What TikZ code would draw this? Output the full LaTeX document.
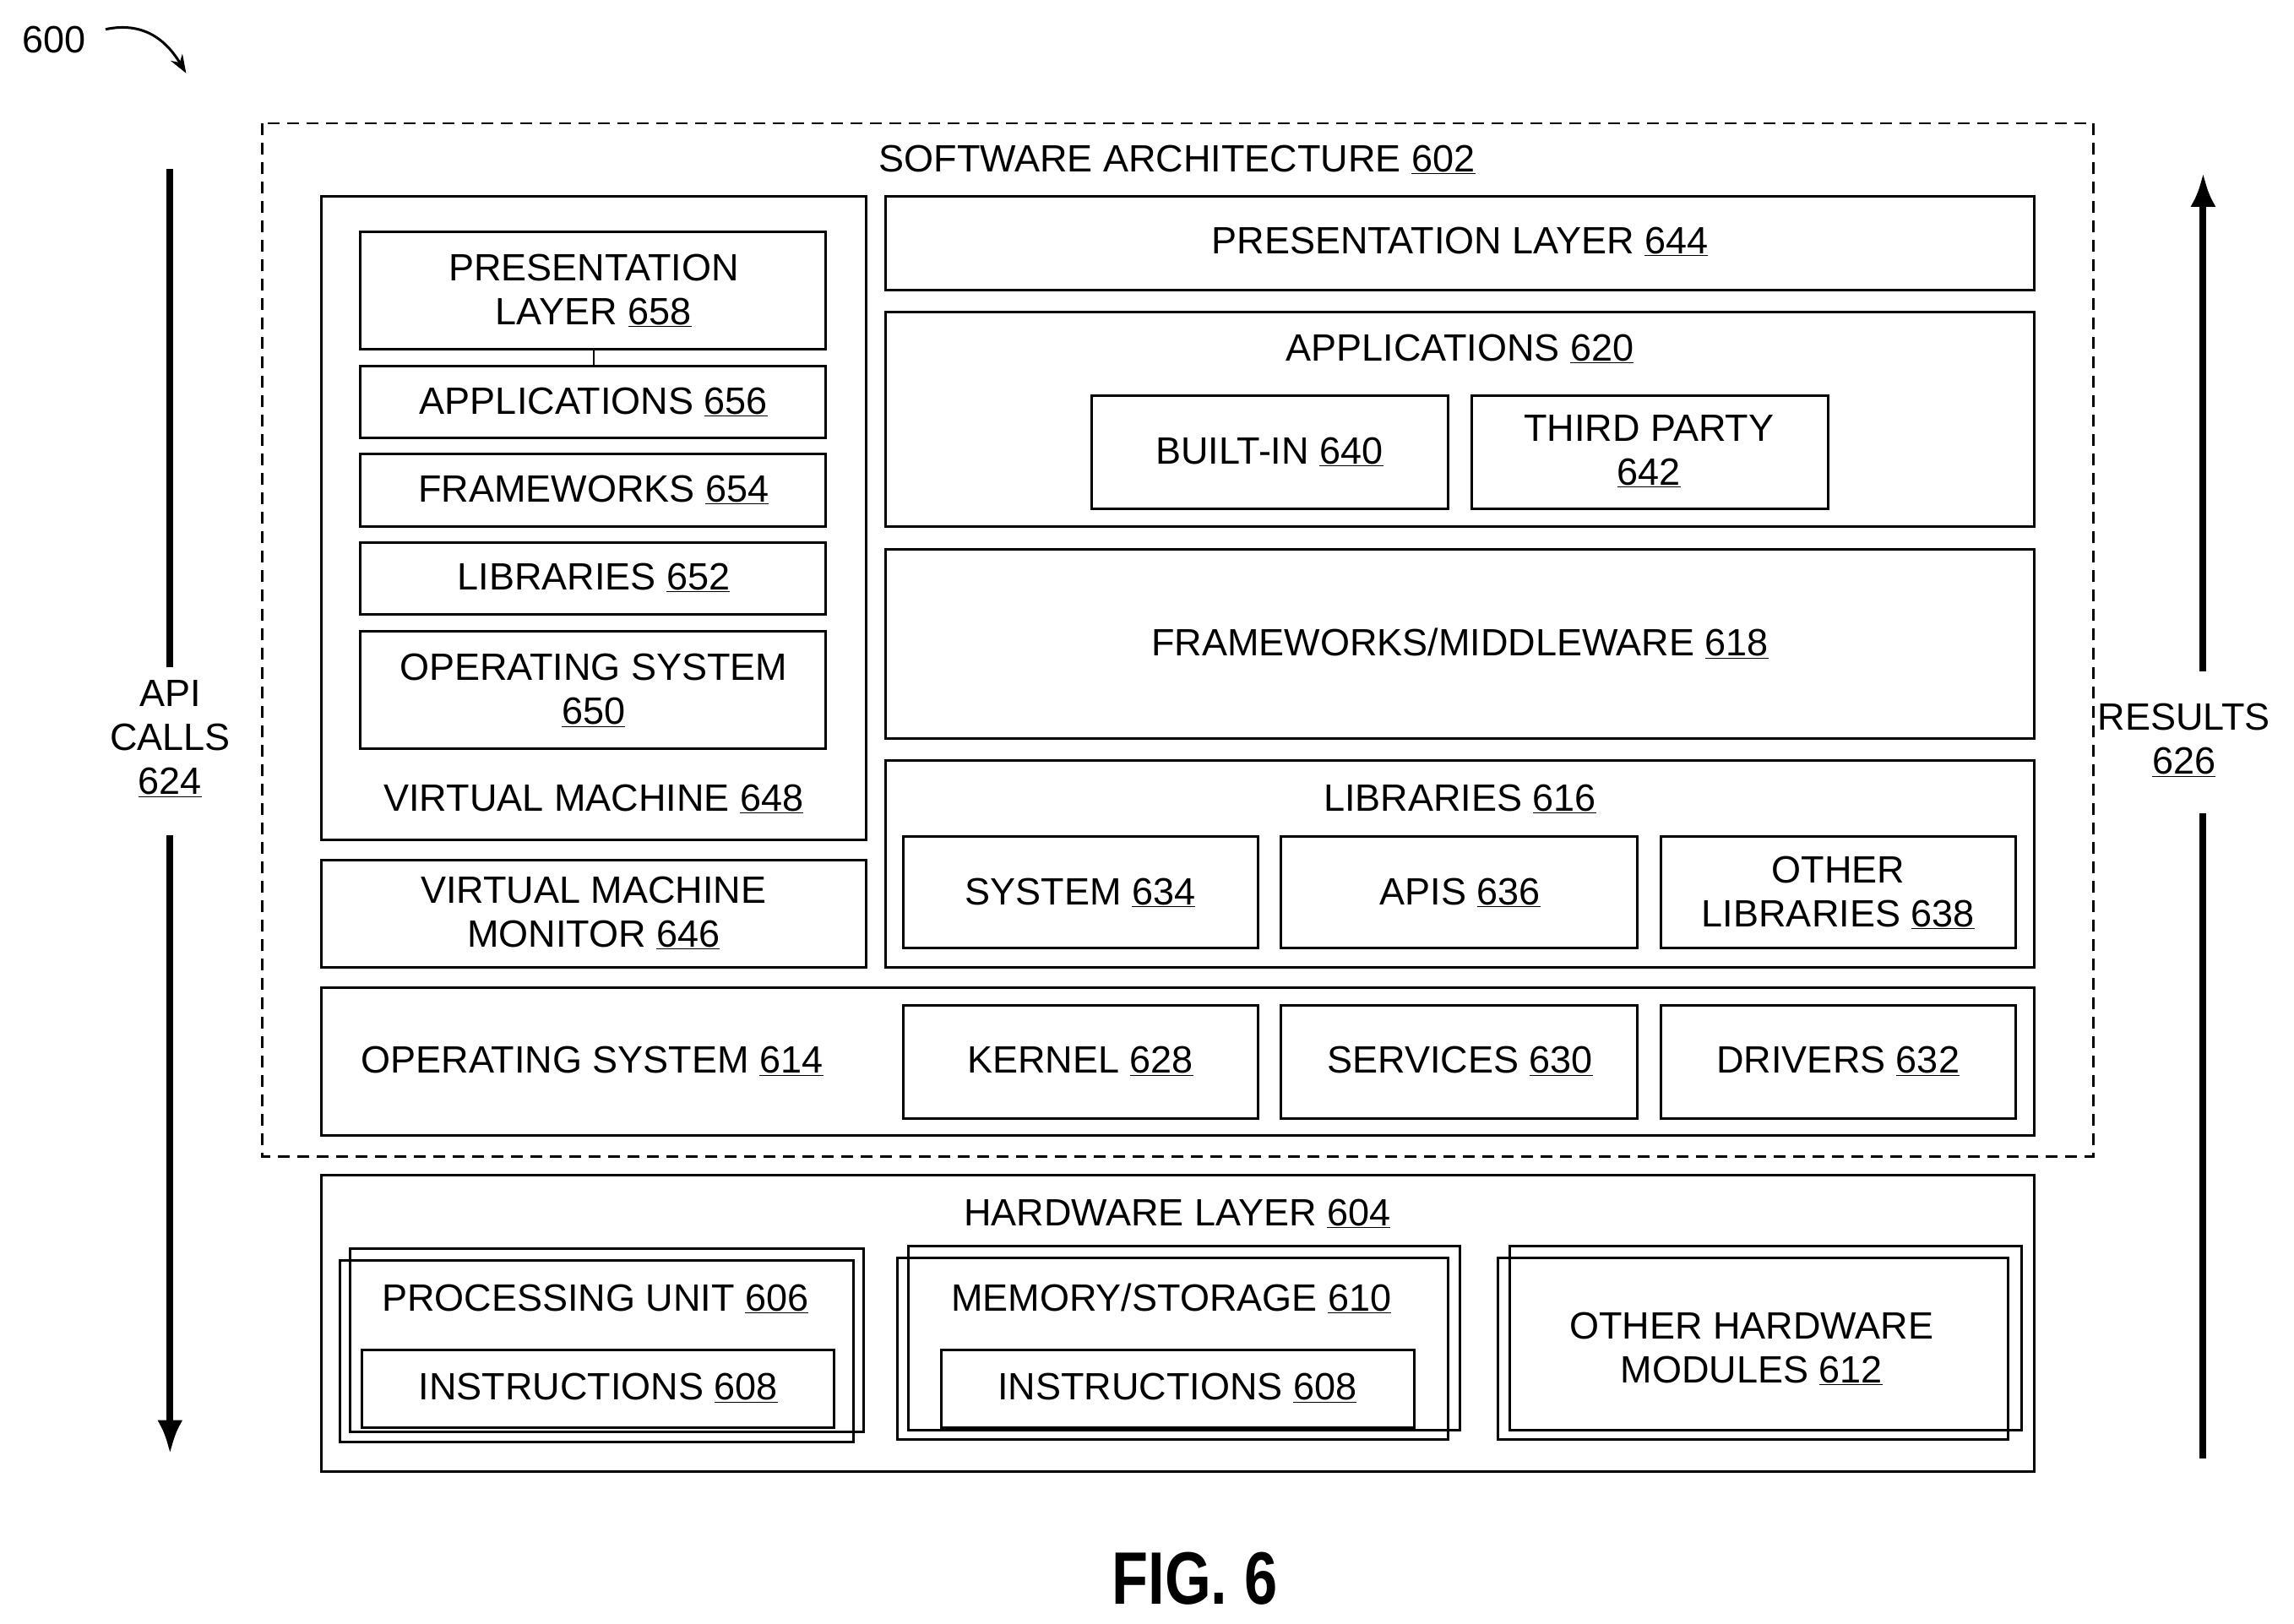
\documentclass[tikz,border=0pt]{standalone}
\usepackage{fontspec}
\setmainfont{Liberation Sans}
\newcommand\un[1]{\underline{#1}}
\begin{document}
\begin{tikzpicture}[x=1.7355pt,y=-1.7355pt,
  bx/.style={draw,line width=3pt},
  t/.style={font=\fontsize{45}{52}\selectfont,align=center,inner sep=0pt},
  ar/.style={line width=8pt,-{Latex[length=40pt,width=30pt]}}]
\usetikzlibrary{arrows.meta}
\useasboundingbox (0,0) rectangle (1565,1108);
\fill[white] (0,0) rectangle (1565,1108);
% label 600
\node[t] (n600) at (37,27) {600};
\coordinate (c1) at (72,20); \coordinate (c2) at (127,50);
\draw[line width=3pt,-{Stealth[length=22pt,width=16pt]}] (c1) .. controls (100,14) and (115,30) .. (c2);
% outer
\draw[line width=2.5pt,dash pattern=on 14pt off 9pt] (179,84) rectangle (1428,789);
\node[t] (sa) at (803,109) {SOFTWARE ARCHITECTURE \un{602}};
% VM
\draw[bx] (219,134) rectangle (591,573);
\draw[bx] (246,158) rectangle (563,238); \node[t] (p658) at (405,198) {PRESENTATION\\LAYER \un{658}};
\draw[bx] (246,250) rectangle (563,299); \node[t] (a656) at (405,274) {APPLICATIONS \un{656}};
\draw[bx] (246,310) rectangle (563,359); \node[t] (f654) at (405,334) {FRAMEWORKS \un{654}};
\draw[bx] (246,370) rectangle (563,419); \node[t] (l652) at (405,394) {LIBRARIES \un{652}};
\draw[bx] (246,431) rectangle (563,511); \node[t] (o650) at (405,471) {OPERATING SYSTEM\\\un{650}};
\draw[line width=2pt] (405,238) -- (405,250);
\node[t] (vm648) at (405,545) {VIRTUAL MACHINE \un{648}};
\draw[bx] (219,587) rectangle (591,660); \node[t] (vmm) at (405,623) {VIRTUAL MACHINE\\MONITOR \un{646}};
% right stack
\draw[bx] (604,134) rectangle (1388,198); \node[t] (p644) at (996,165) {PRESENTATION LAYER \un{644}};
\draw[bx] (604,213) rectangle (1388,359); \node[t] (a620) at (996,238) {APPLICATIONS \un{620}};
\draw[bx] (745,270) rectangle (988,347); \node[t] (b640) at (866,308) {BUILT-IN \un{640}};
\draw[bx] (1004,270) rectangle (1247,347); \node[t] (t642) at (1125,308) {THIRD PARTY\\\un{642}};
\draw[bx] (604,375) rectangle (1388,504); \node[t] (f618) at (996,439) {FRAMEWORKS/MIDDLEWARE \un{618}};
\draw[bx] (604,519) rectangle (1388,660); \node[t] (l616) at (996,545) {LIBRARIES \un{616}};
\draw[bx] (616,571) rectangle (858,647); \node[t] (s634) at (737,609) {SYSTEM \un{634}};
\draw[bx] (874,571) rectangle (1117,647); \node[t] (a636) at (996,609) {APIS \un{636}};
\draw[bx] (1133,571) rectangle (1375,647); \node[t] (o638) at (1254,609) {OTHER\\LIBRARIES \un{638}};
% OS
\draw[bx] (219,674) rectangle (1388,775); \node[t] (o614) at (404,724) {OPERATING SYSTEM \un{614}};
\draw[bx] (616,686) rectangle (858,763); \node[t] (k628) at (737,724) {KERNEL \un{628}};
\draw[bx] (874,686) rectangle (1117,763); \node[t] (s630) at (996,724) {SERVICES \un{630}};
\draw[bx] (1133,686) rectangle (1375,763); \node[t] (d632) at (1254,724) {DRIVERS \un{632}};
% hardware
\draw[bx] (219,802) rectangle (1388,1004); \node[t] (h604) at (803,828) {HARDWARE LAYER \un{604}};
\draw[bx] (232,860) rectangle (582,984); \draw[bx] (239,852) rectangle (589,977);
\node[t] (pu) at (406,886) {PROCESSING UNIT \un{606}};
\draw[bx] (247,921) rectangle (569,974); \node[t] (i1) at (408,947) {INSTRUCTIONS \un{608}};
\draw[bx] (612,858) rectangle (988,982); \draw[bx] (620,850) rectangle (996,976);
\node[t] (ms) at (799,886) {MEMORY/STORAGE \un{610}};
\draw[bx] (642,921) rectangle (965,974); \node[t] (i2) at (803,947) {INSTRUCTIONS \un{608}};
\draw[bx] (1022,858) rectangle (1370,982); \draw[bx] (1030,850) rectangle (1379,976);
\node[t] (oh) at (1195,920) {OTHER HARDWARE\\MODULES \un{612}};
% arrows
\node[t] (api) at (116,504) {API\\CALLS\\\un{624}};
\coordinate (at) at (116,115); \coordinate (ab) at (116,992);
\draw[line width=8pt] (at) -- (api.north|-0,455);
\draw[ar] (api.south|-0,570) -- (ab);
\node[t] (res) at (1490,505) {RESULTS\\\un{626}};
\coordinate (rt) at (1503,118); \coordinate (rb) at (1503,995);
\draw[line width=8pt] (rb) -- (1503,555);
\draw[ar] (1503,458) -- (rt);
\node[t,font=\bfseries\fontsize{88}{90}\selectfont,xscale=0.8] (fig) at (815,1077) {FIG. 6};
\end{tikzpicture}
\end{document}
